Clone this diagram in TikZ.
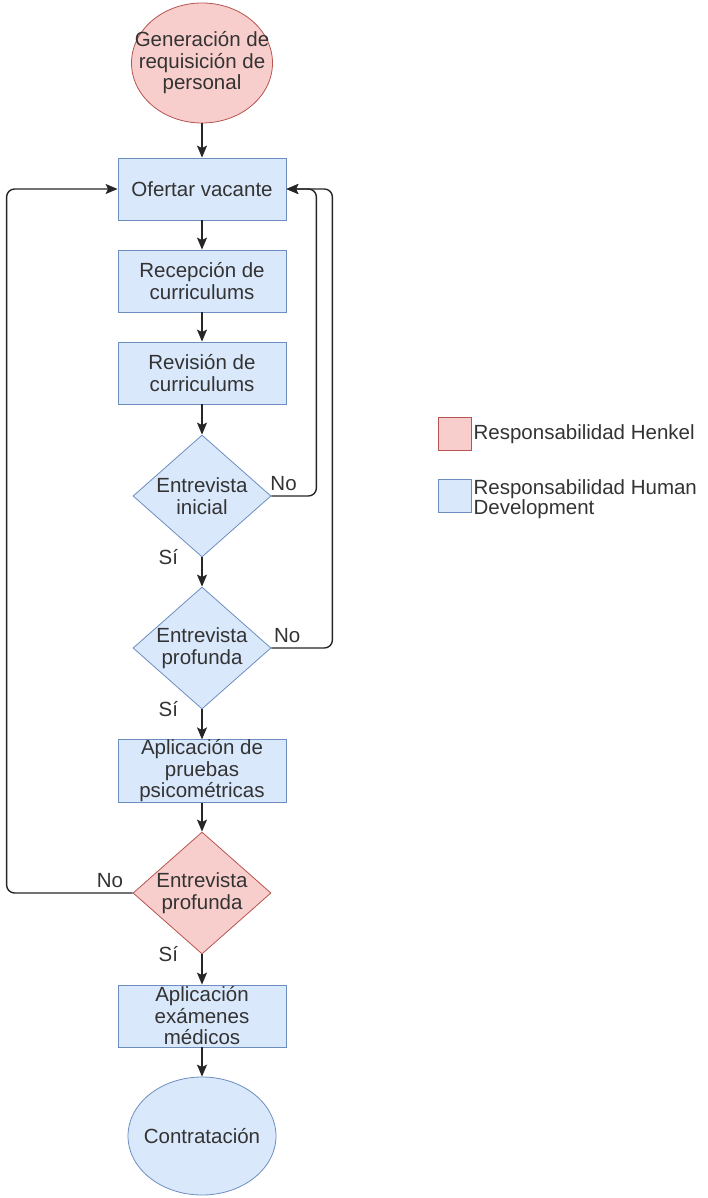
\documentclass[tikz,border=0pt]{standalone}
\usepackage{fontspec}
\setmainfont{Liberation Sans}
\usetikzlibrary{shapes.geometric,arrows.meta}
\definecolor{henkelfill}{HTML}{F8CECC}
\definecolor{henkeldraw}{HTML}{B85450}
\definecolor{hdfill}{HTML}{DAE8FC}
\definecolor{hddraw}{HTML}{6C8EBF}
\definecolor{txt}{HTML}{333333}

\begin{document}
\begin{tikzpicture}[x=1pt, y=-1pt, node distance=123pt,
    font=\fontsize{20.5}{21.5}\selectfont, text=txt,
    proc/.style={draw=hddraw, fill=hdfill, line width=0.8pt, rectangle, minimum width=168pt, minimum height=62pt, align=center, inner sep=0pt},
    decide/.style={draw=hddraw, fill=hdfill, line width=0.8pt, diamond, minimum width=138pt, minimum height=122pt, aspect=1.13, align=center, inner sep=0pt},
    terminal/.style={draw=hddraw, fill=hdfill, line width=0.8pt, ellipse, minimum width=148pt, minimum height=118pt, inner sep=0pt},
    henkel/.style={draw=henkeldraw, fill=henkelfill},
    arrow/.style={-{Stealth[length=12pt,width=10pt,inset=2.5pt]}, line width=1.4pt, draw=black!85},
    legendbox/.style={draw=hddraw, fill=hdfill, line width=0.8pt, minimum size=33pt, inner sep=0pt}]
    \useasboundingbox (0,0) rectangle (707,1198);

    \node[terminal, henkel, minimum width=141pt, minimum height=120pt,
        label={[align=center]center:Generación de\\requisición de\\personal}] (req) at (202,63) {};
    \node[proc, below of=req, node distance=126pt] (ofertar) {Ofertar vacante};
    \node[proc, below of=ofertar, node distance=92pt] (recepcion) {Recepción de\\curriculums};
    \node[proc, below of=recepcion, node distance=92pt] (revision) {Revisión de\\curriculums};
    \node[decide, below of=revision] (inicial) {Entrevista\\inicial};
    \node[decide, below of=inicial, node distance=152pt] (profunda) {Entrevista\\profunda};
    \node[proc, below of=profunda] (pruebas) {Aplicación de\\pruebas\\psicométricas};
    \node[decide, henkel, below of=pruebas, node distance=122pt] (final) {Entrevista\\profunda};
    \node[proc, below of=final] (medicos) {Aplicación\\exámenes\\médicos};
    \node[terminal, below of=medicos, node distance=120pt, label=center:Contratación] (contrato) {};

    % Legend
    \node[legendbox, henkel] (leyhenkel) at (454.5,434) {};
    \node[anchor=west, inner sep=2pt] (leyhenkeltxt) at (leyhenkel.east) {Responsabilidad Henkel};
    \node[legendbox] (leyhd) at (454.5,496) {};
    \node[anchor=north west, inner xsep=2pt, inner ysep=0pt, align=left, font=\fontsize{20.5}{20}\selectfont] (leyhdtxt) at (leyhd.north east) {Responsabilidad Human\\Development};

    % Flow and loops back to the vacancy
    \draw[arrow] (req) -- (ofertar);
    \draw[arrow] (ofertar) -- (recepcion);
    \draw[arrow] (recepcion) -- (revision);
    \draw[arrow] (revision) -- (inicial);
    \draw[arrow] (inicial) -- node[pos=0, left=20pt] {Sí} (profunda);
    \draw[arrow] (profunda) -- node[pos=0, left=20pt] {Sí} (pruebas);
    \draw[arrow] (pruebas) -- (final);
    \draw[arrow] (final) -- node[pos=0, left=20pt] {Sí} (medicos);
    \draw[arrow] (medicos) -- (contrato);
    \draw[arrow, rounded corners=8pt] (inicial.east) -- node[pos=0.27, above=1pt] {No} ++(45,0) |- (ofertar.east);
    \draw[arrow, rounded corners=8pt] (profunda.east) -- node[pos=0.26, above=1pt] {No} ++(61,0) |- (ofertar.east);
    \draw[arrow, rounded corners=8pt] (final.west) -- node[pos=0.18, above=1pt] {No} ++(-126,0) |- (ofertar.west);
\end{tikzpicture}
\end{document}
